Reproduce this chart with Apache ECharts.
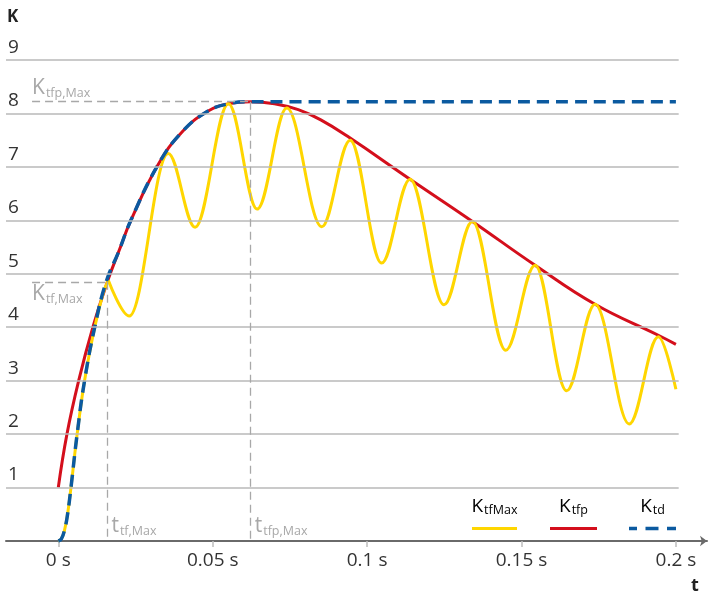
<!DOCTYPE html>
<html><head><meta charset="utf-8">
<script src="https://cdn.jsdelivr.net/npm/echarts@6/dist/echarts.min.js"></script>
<style>html,body{margin:0;padding:0;background:#fff}#c{width:710px;height:593px}</style>
</head><body><div id="c"></div>
<script>
// ---- data ----
const xTickValues = [0, 0.05, 0.1, 0.15, 0.2];
const yTickValues = [1, 2, 3, 4, 5, 6, 7, 8, 9];

// K_tfp (red)
const tfpT = [0, 0.0028, 0.0066, 0.0112, 0.0162, 0.0196, 0.0235, 0.0324, 0.040, 0.0481, 0.055, 0.0623, 0.070, 0.0777, 0.085, 0.0945, 0.1139, 0.1341, 0.1544, 0.1738, 0.1943, 0.2];
const tfpK = [1.0, 2.0, 3.0, 4.0, 4.9, 5.42, 6.0, 7.05, 7.65, 8.03, 8.18, 8.22, 8.18, 8.07, 7.88, 7.54, 6.77, 5.98, 5.16, 4.43, 3.85, 3.68];

// K_td (blue dashed)
const tdT = [0, 0.001, 0.002, 0.003, 0.0041, 0.0061, 0.0085, 0.0118, 0.0155, 0.0196, 0.0235, 0.0324, 0.040, 0.0481, 0.055, 0.0623, 0.2];
const tdK = [0, 0.04, 0.2, 0.5, 1.0, 2.0, 3.0, 4.0, 4.85, 5.42, 6.0, 7.05, 7.65, 8.03, 8.18, 8.22, 8.22];

// K_tfMax (yellow): rising part, then oscillation extrema
const tfRiseT = [0, 0.001, 0.002, 0.003, 0.0041, 0.0061, 0.0085, 0.0118, 0.0145, 0.0162];
const tfRiseK = [0, 0.04, 0.2, 0.5, 1.0, 2.0, 3.0, 4.0, 4.63, 4.88];
const tfOscT = [0.0162, 0.0230, 0.0356, 0.0443, 0.0551, 0.0644, 0.0740, 0.0853, 0.0945, 0.1047, 0.1139, 0.1249, 0.1341, 0.1449, 0.1544, 0.1646, 0.1738, 0.1849, 0.1943, 0.2];
const tfOscK = [4.88, 4.21, 7.25, 5.87, 8.18, 6.21, 8.10, 5.88, 7.50, 5.20, 6.77, 4.42, 5.98, 3.57, 5.16, 2.81, 4.43, 2.19, 3.82, 2.84];

// annotation points
const tTfMax = 0.0159, kTfMax = 4.85;
const tTfpMax = 0.0623, kTfpMax = 8.22;

// ---- layout / style ----
const X_MIN = -0.016937, X_MAX = 0.21007, GRID_END = 0.2009, ANNOT_START = -0.0085;
const FONT = "'Open Sans', 'Noto Sans', sans-serif";
const YELLOW = '#ffd600', RED = '#d40f1c', BLUE = '#0b5aa0';
const GRID_C = '#b8b8b8', ANNOT_C = '#a8a8a8', TEXT_C = '#333333';

const pts = (ts, ks) => ts.map((t, i) => [t, ks[i]]);

function richSub(color, big, small) {
  return {
    b: { fontSize: big, color: color, fontFamily: FONT, verticalAlign: 'top', lineHeight: big + 1 },
    s: { fontSize: small, color: color, fontFamily: FONT, verticalAlign: 'bottom', lineHeight: small + 2, padding: [Math.round(big * 0.62), 0, 0, 1] }
  };
}

const gridLines = yTickValues.map(v => [{ coord: [X_MIN, v] }, { coord: [GRID_END, v] }]);
const dashStyle = { type: [8, 5], color: ANNOT_C, width: 1.3 };
const annotLines = [
  [{ coord: [ANNOT_START, kTfMax], lineStyle: dashStyle }, { coord: [tTfMax, kTfMax] }],
  [{ coord: [tTfMax, kTfMax], lineStyle: dashStyle }, { coord: [tTfMax, 0] }],
  [{ coord: [ANNOT_START, kTfpMax], lineStyle: dashStyle }, { coord: [tTfpMax, kTfpMax] }],
  [{ coord: [tTfpMax, kTfpMax], lineStyle: dashStyle }, { coord: [tTfpMax, 0] }]
];

function annot(coord, txt, sub, align, vAlign, offset) {
  return {
    coord: coord, symbolSize: 0,
    label: {
      show: true, position: [0, 0], align: align, verticalAlign: vAlign, offset: offset,
      formatter: '{b|' + txt + '}{s|' + sub + '}', rich: richSub(ANNOT_C, 21, 12.5)
    }
  };
}

const chart = echarts.init(document.getElementById('c'), null, { renderer: 'canvas' });
chart.setOption({
  animation: false,
  backgroundColor: '#ffffff',
  grid: { left: 6, right: 3, top: 60, bottom: 52, containLabel: false },
  xAxis: {
    type: 'value', min: X_MIN, max: X_MAX,
    axisLine: { show: true, onZero: false, symbol: ['none', 'arrow'], symbolSize: [8, 7], lineStyle: { color: '#6a6a6a', width: 2 } },
    axisTick: { show: true, customValues: xTickValues, length: 6, lineStyle: { color: '#bdbdbd', width: 1.5 } },
    axisLabel: { show: true, customValues: xTickValues, margin: 10, fontFamily: FONT, fontSize: 19, color: TEXT_C, formatter: v => v + ' s' },
    splitLine: { show: false }
  },
  yAxis: {
    type: 'value', min: 0, max: 9,
    axisLine: { show: false, onZero: false }, axisTick: { show: false },
    axisLabel: { show: true, inside: true, customValues: yTickValues, margin: 2, align: 'left', verticalAlign: 'bottom', padding: [0, 0, 3, 0], fontFamily: FONT, fontSize: 19, color: TEXT_C },
    splitLine: { show: false }
  },
  series: [
    {
      type: 'line', data: [], z: 1, silent: true,
      markLine: {
        silent: true, symbol: ['none', 'none'], label: { show: false }, animation: false,
        lineStyle: { type: 'solid', color: GRID_C, width: 1.5 },
        data: gridLines.concat(annotLines)
      },
      markPoint: {
        silent: true, symbol: 'circle', symbolSize: 0, animation: false,
        itemStyle: { color: 'rgba(0,0,0,0)' },
        data: [
          annot([ANNOT_START, kTfpMax], 'K', 'tfp,Max', 'left', 'bottom', [0, -2]),
          annot([ANNOT_START, kTfMax], 'K', 'tf,Max', 'left', 'top', [0, 2]),
          annot([tTfMax, 0], 't', 'tf,Max', 'left', 'bottom', [4, -3]),
          annot([tTfpMax, 0], 't', 'tfp,Max', 'left', 'bottom', [4, -3])
        ]
      }
    },
    { name: 'K_tfp', type: 'line', z: 2, data: pts(tfpT, tfpK), showSymbol: false, smooth: 0.45, lineStyle: { color: RED, width: 3 } },
    { name: 'K_tfMax', type: 'line', z: 3, data: pts(tfRiseT, tfRiseK), showSymbol: false, smooth: 0.4, lineStyle: { color: YELLOW, width: 3 } },
    { name: 'K_tfMax', type: 'line', z: 3, data: pts(tfOscT, tfOscK), showSymbol: false, smooth: 0.36, smoothMonotone: 'x', lineStyle: { color: YELLOW, width: 3 } },
    { name: 'K_td', type: 'line', z: 4, data: pts(tdT, tdK), showSymbol: false, smooth: 0.45, lineStyle: { color: BLUE, width: 3.5, type: [12, 7] } }
  ],
  graphic: [
    { type: 'text', x: 7, y: 9, style: { text: 'K', font: "bold 17px " + FONT, fill: '#222' } },
    { type: 'text', x: 695, y: 586, style: { text: 't', font: "bold 18px " + FONT, fill: '#222', align: 'center', verticalAlign: 'middle' } },
    { type: 'line', shape: { x1: 472, y1: 528.5, x2: 517, y2: 528.5 }, style: { stroke: YELLOW, lineWidth: 3 } },
    { type: 'text', x: 494.5, y: 497, style: { text: '{b|K}{s|tfMax}', align: 'center', verticalAlign: 'top', rich: richSub(TEXT_C, 19, 12.5) } },
    { type: 'line', shape: { x1: 550, y1: 528.5, x2: 597, y2: 528.5 }, style: { stroke: RED, lineWidth: 3 } },
    { type: 'text', x: 573.5, y: 497, style: { text: '{b|K}{s|tfp}', align: 'center', verticalAlign: 'top', rich: richSub(TEXT_C, 19, 12.5) } },
    { type: 'line', shape: { x1: 629, y1: 528.5, x2: 676, y2: 528.5 }, style: { stroke: BLUE, lineWidth: 3.5, lineDash: [13, 8.5], lineDashOffset: 5 } },
    { type: 'text', x: 652.5, y: 497, style: { text: '{b|K}{s|td}', align: 'center', verticalAlign: 'top', rich: richSub(TEXT_C, 19, 12.5) } }
  ]
});
</script></body></html>
